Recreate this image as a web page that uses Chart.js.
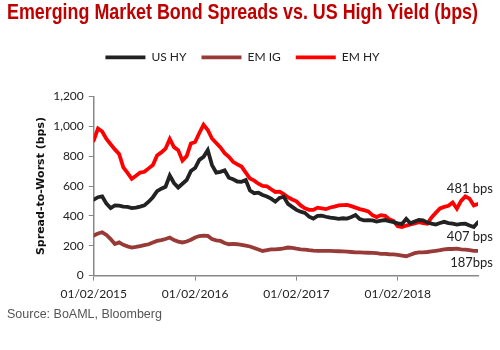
<!DOCTYPE html>
<html>
<head>
<meta charset="utf-8">
<script src="https://cdn.jsdelivr.net/npm/chart.js@4"></script>
<style>
  body { margin: 0; background: #fff; }
  #wrap { width: 500px; height: 350px; }
</style>
</head>
<body>
<div id="wrap"><canvas id="spreadChart" width="500" height="350"></canvas></div>
<script>
// months after 01/02/2015, half-month steps
var months = [0,0.5,1,1.5,2,2.5,3,3.5,4,4.5,5,5.5,6,6.5,7,7.5,8,8.5,9,9.5,
  10,10.5,11,11.5,12,12.5,13,13.5,14,14.5,15,15.5,16,16.5,17,17.5,18,18.5,19,19.5,
  20,20.5,21,21.5,22,22.5,23,23.5,24,24.5,25,25.5,26,26.5,27,27.5,28,28.5,29,29.5,
  30,30.5,31,31.5,32,32.5,33,33.5,34,34.5,35,35.5,36,36.5,37,37.5,38,38.5,39,39.5,
  40,40.5,41,41.5,42,42.5,43,43.5,44,44.5,45,45.5];

var usHY = [508,525,530,482,452,470,468,462,460,452,
  455,462,470,495,525,565,582,595,670,620,
  590,615,640,700,720,775,795,840,740,690,
  695,705,655,645,630,628,640,570,552,555,
  540,530,515,495,520,528,480,460,440,428,
  420,395,382,400,402,394,388,385,380,384,
  382,392,405,378,370,372,370,362,368,372,
  364,358,350,346,380,350,362,372,370,355,
  348,342,352,360,352,348,342,346,348,336,
  325,358];

var emIG = [268,282,290,272,245,212,222,206,196,188,
  192,198,204,210,222,232,238,245,255,238,
  228,222,228,240,255,265,268,266,245,236,
  232,218,210,212,210,205,200,195,185,175,
  165,170,176,176,178,182,188,185,180,176,
  174,170,167,165,165,166,165,164,163,162,
  160,158,155,155,154,153,152,150,146,145,
  143,142,138,134,130,140,150,155,156,158,
  162,166,170,176,178,178,180,176,174,170,
  166,165];

var emHY = [905,985,965,915,880,845,815,725,688,648,
  668,690,695,718,740,805,825,850,915,860,
  840,770,800,885,895,955,1010,975,918,888,
  858,820,795,762,745,730,690,650,636,615,
  600,598,578,560,562,545,525,510,497,470,
  450,440,440,455,450,445,456,462,470,472,
  474,465,455,445,438,430,405,392,405,400,
  378,365,330,325,335,342,350,358,352,348,
  390,420,450,460,468,490,448,500,530,515,
  470,480];

var tickMonths = [0, 12, 24, 36];
var tickLabels = ['01/02/2015', '01/02/2016', '01/02/2017', '01/02/2018'];

// end-of-line notes and the level they sit at
var endLabels = ['481 bps', '407 bps', '187bps'];
var endLabelLevels = [581, 259, 87];

function toPoints(vals) {
  return vals.map(function (v, i) { return { x: months[i], y: v }; });
}

Chart.defaults.font.family = 'Lato, "DejaVu Sans", sans-serif';
Chart.defaults.font.size = 12;
Chart.defaults.color = '#222';

var legendMargin = {
  id: 'legendMargin',
  beforeInit: function (chart) {
    var fit = chart.legend.fit;
    chart.legend.fit = function () {
      fit.bind(chart.legend)();
      this.height += 23;
    };
  }
};

var endNotes = {
  id: 'endNotes',
  afterDatasetsDraw: function (chart) {
    var ctx = chart.ctx;
    var xs = chart.scales.x, ys = chart.scales.y;
    var x = xs.getPixelForValue(months[months.length - 1]) + 15;
    ctx.save();
    ctx.font = '13px Lato, "DejaVu Sans", sans-serif';
    ctx.fillStyle = '#222';
    ctx.textAlign = 'right';
    ctx.textBaseline = 'middle';
    endLabels.forEach(function (t, i) {
      ctx.fillText(t, x, ys.getPixelForValue(endLabelLevels[i]));
    });
    ctx.restore();
  }
};

new Chart('spreadChart', {
  type: 'line',
  data: {
    datasets: [
      {
        label: 'US HY',
        data: toPoints(usHY),
        borderColor: '#222222',
        backgroundColor: '#222222',
        borderWidth: 3.8,
        pointRadius: 0,
        tension: 0,
        borderCapStyle: 'round'
      },
      {
        label: 'EM IG',
        data: toPoints(emIG),
        borderColor: '#983a37',
        backgroundColor: '#983a37',
        borderWidth: 3.8,
        pointRadius: 0,
        tension: 0,
        borderCapStyle: 'round'
      },
      {
        label: 'EM HY',
        data: toPoints(emHY),
        borderColor: '#ff0000',
        backgroundColor: '#ff0000',
        borderWidth: 3.8,
        pointRadius: 0,
        tension: 0,
        borderCapStyle: 'round'
      }
    ]
  },
  options: {
    responsive: false,
    animation: false,
    layout: { padding: { left: 7, right: 22, top: 0, bottom: 28 } },
    plugins: {
      title: {
        display: true,
        text: 'Emerging Market Bond Spreads vs. US High Yield (bps)',
        color: '#c00000',
        font: { family: '"Liberation Sans Narrow", "Liberation Sans", Arial, sans-serif', size: 22, weight: 'bold' },
        padding: { top: 0, bottom: 10 }
      },
      subtitle: {
        display: true,
        position: 'bottom',
        align: 'start',
        text: 'Source: BoAML, Bloomberg',
        color: '#555',
        font: { family: '"Liberation Sans", Arial, sans-serif', size: 12.5 },
        padding: { top: 0, bottom: 0 }
      },
      legend: {
        position: 'top',
        labels: {
          usePointStyle: true,
          pointStyle: 'line',
          pointStyleWidth: 40,
          padding: 15,
          color: '#222'
        }
      },
      tooltip: { enabled: false }
    },
    scales: {
      x: {
        type: 'linear',
        min: 0,
        max: months[months.length - 1],
        afterBuildTicks: function (axis) {
          axis.ticks = tickMonths.map(function (m) { return { value: m }; });
        },
        ticks: {
          padding: 6,
          maxRotation: 0,
          callback: function (v) {
            var i = tickMonths.indexOf(v);
            return i < 0 ? '' : tickLabels[i];
          }
        },
        grid: { drawOnChartArea: false, drawTicks: true, tickLength: 5, color: '#888' },
        border: { display: true, color: '#888', width: 1.5 }
      },
      y: {
        min: 0,
        max: 1200,
        ticks: { stepSize: 200, padding: 5 },
        grid: { drawOnChartArea: false, drawTicks: true, tickLength: 5, color: '#888' },
        border: { display: true, color: '#888', width: 1.5 },
        title: {
          display: true,
          text: 'Spread-to-Worst (bps)',
          color: '#111',
          font: { family: '"DejaVu Sans", sans-serif', size: 11, weight: 'bold' },
          padding: { top: 28, bottom: 0 }
        }
      }
    }
  },
  plugins: [legendMargin, endNotes]
});
</script>
</body>
</html>
